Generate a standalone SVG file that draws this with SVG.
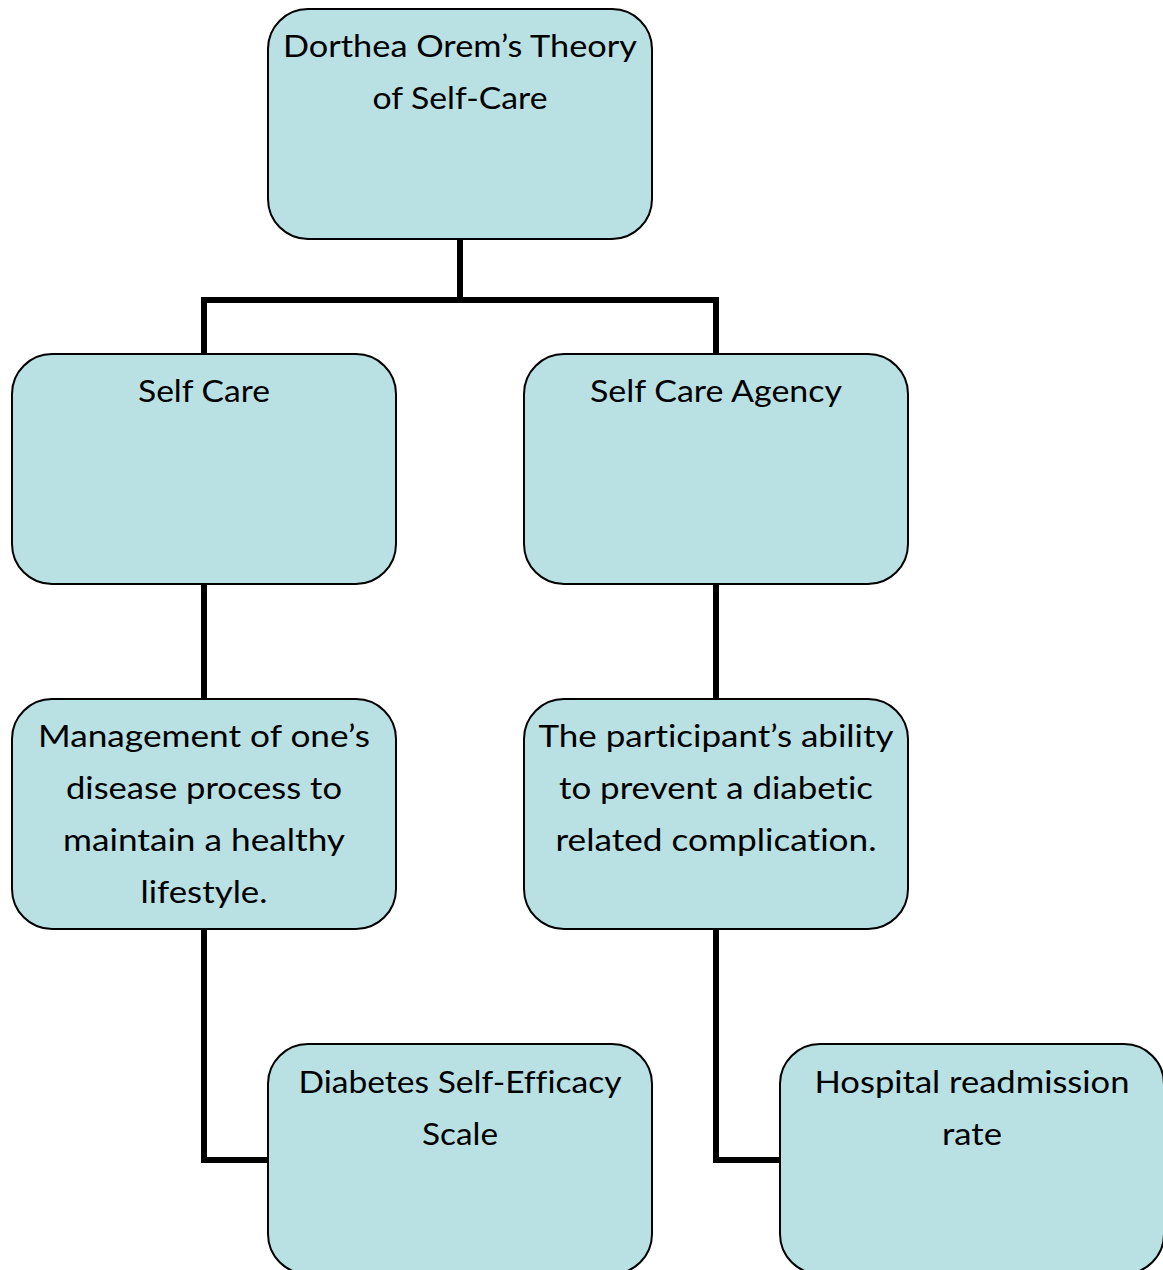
<svg xmlns="http://www.w3.org/2000/svg" width="1163" height="1270" viewBox="0 0 1163 1270">
<style>
.box{fill:#b9e0e3;stroke:#000;stroke-width:2}
.lbl{font-family:Lato,"Open Sans",sans-serif;font-size:30.5px;fill:#000;text-anchor:middle;font-variant-ligatures:none;font-feature-settings:"liga" 0,"dlig" 0}
.conn{fill:none;stroke:#000;stroke-width:6;stroke-linejoin:miter}
</style>
<rect width="1163" height="1270" fill="#fff"/>
<g id="connectors">
<path class="conn" d="M460 239V300"/>
<path class="conn" d="M204 354V300H716V354"/>
<path class="conn" d="M204 584V699M716 584V699"/>
<path class="conn" d="M204 929V1160H268M716 929V1160H780"/>
</g>
<g id="root">
<rect class="box" x="268" y="9" width="384" height="230" rx="40"/>
<text class="lbl" x="460" y="57" textLength="354" lengthAdjust="spacingAndGlyphs">Dorthea Orem’s Theory</text>
<text class="lbl" x="460" y="109" textLength="175" lengthAdjust="spacingAndGlyphs">of Self-Care</text>
</g>
<g id="selfcare">
<rect class="box" x="12" y="354" width="384" height="230" rx="40"/>
<text class="lbl" x="204" y="402" textLength="132" lengthAdjust="spacingAndGlyphs">Self Care</text>
</g>
<g id="agency">
<rect class="box" x="524" y="354" width="384" height="230" rx="40"/>
<text class="lbl" x="716" y="402" textLength="252" lengthAdjust="spacingAndGlyphs">Self Care Agency</text>
</g>
<g id="management">
<rect class="box" x="12" y="699" width="384" height="230" rx="40"/>
<text class="lbl" x="204" y="747" textLength="332" lengthAdjust="spacingAndGlyphs">Management of one’s</text>
<text class="lbl" x="204" y="799" textLength="276" lengthAdjust="spacingAndGlyphs">disease process to</text>
<text class="lbl" x="204" y="851" textLength="282" lengthAdjust="spacingAndGlyphs">maintain a healthy</text>
<text class="lbl" x="204" y="903" textLength="127" lengthAdjust="spacingAndGlyphs">lifestyle.</text>
</g>
<g id="ability">
<rect class="box" x="524" y="699" width="384" height="230" rx="40"/>
<text class="lbl" x="716" y="747" textLength="355" lengthAdjust="spacingAndGlyphs">The participant’s ability</text>
<text class="lbl" x="716" y="799" textLength="314" lengthAdjust="spacingAndGlyphs">to prevent a diabetic</text>
<text class="lbl" x="716" y="851" textLength="321" lengthAdjust="spacingAndGlyphs">related complication.</text>
</g>
<g id="scale">
<rect class="box" x="268" y="1044" width="384" height="230" rx="40"/>
<text class="lbl" x="460" y="1093" textLength="323" lengthAdjust="spacingAndGlyphs">Diabetes Self-Efficacy</text>
<text class="lbl" x="460" y="1145" textLength="76" lengthAdjust="spacingAndGlyphs">Scale</text>
</g>
<g id="readmission">
<rect class="box" x="780" y="1044" width="384" height="230" rx="40"/>
<text class="lbl" x="972" y="1093" textLength="315" lengthAdjust="spacingAndGlyphs">Hospital readmission</text>
<text class="lbl" x="972" y="1145" textLength="60" lengthAdjust="spacingAndGlyphs">rate</text>
</g>
</svg>
